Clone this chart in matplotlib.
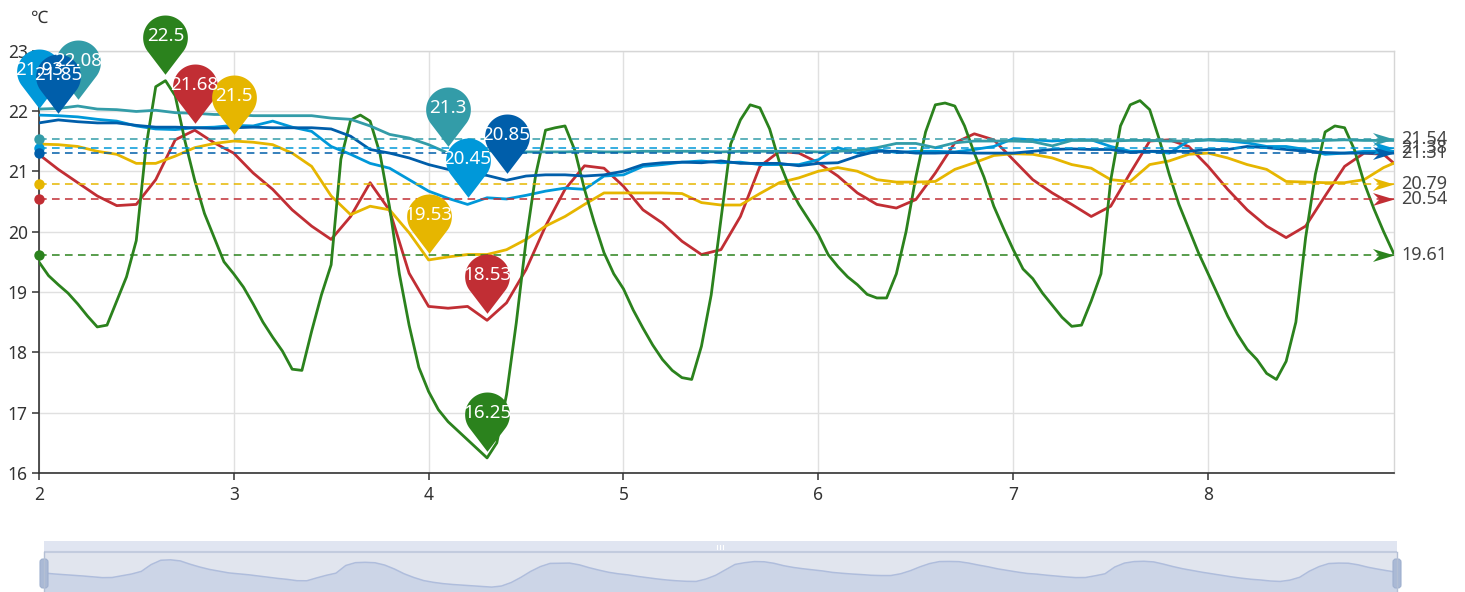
import numpy as np
import matplotlib.pyplot as plt
from matplotlib.path import Path
from matplotlib.markers import MarkerStyle
from matplotlib.patches import Rectangle, FancyBboxPatch

plt.rcParams['font.family'] = ['Noto Sans', 'DejaVu Sans']

# x grid of the sensors (step 0.1, last sample at 8.95)
x = list(np.round(np.arange(2.0, 8.91, 0.1), 2)) + [8.95]
# green sensor logged twice as often
x_green = list(np.round(np.arange(2.0, 8.96, 0.05), 2))

red = [21.28, 21.03, 20.81, 20.59, 20.43, 20.45, 20.86, 21.52, 21.68, 21.47,
       21.30, 20.97, 20.70, 20.36, 20.09, 19.87, 20.25, 20.81, 20.35, 19.31,
       18.76, 18.73, 18.76, 18.53, 18.82, 19.37, 20.09, 20.70, 21.09, 21.05,
       20.75, 20.36, 20.14, 19.84, 19.62, 19.70, 20.25, 21.08, 21.33, 21.30,
       21.14, 20.92, 20.64, 20.45, 20.39, 20.53, 20.97, 21.47, 21.62, 21.52,
       21.19, 20.86, 20.64, 20.45, 20.25, 20.42, 20.97, 21.50, 21.52, 21.41,
       21.08, 20.70, 20.36, 20.09, 19.90, 20.09, 20.59, 21.08, 21.30, 21.28,
       21.14]
yellow = [21.45, 21.44, 21.41, 21.33, 21.28, 21.13, 21.13, 21.25, 21.39, 21.46,
          21.50, 21.48, 21.44, 21.30, 21.08, 20.59, 20.28, 20.42, 20.36, 19.98,
          19.53, 19.58, 19.62, 19.62, 19.70, 19.87, 20.09, 20.25, 20.45, 20.64,
          20.64, 20.64, 20.64, 20.63, 20.48, 20.44, 20.44, 20.63, 20.81, 20.89,
          21.00, 21.06, 21.00, 20.86, 20.82, 20.82, 20.83, 21.03, 21.14, 21.26,
          21.29, 21.28, 21.22, 21.11, 21.05, 20.86, 20.83, 21.11, 21.17, 21.28,
          21.30, 21.22, 21.11, 21.03, 20.83, 20.82, 20.81, 20.81, 20.86, 21.06,
          21.13]
light_blue = [21.93, 21.92, 21.90, 21.86, 21.83, 21.75, 21.70, 21.69, 21.72, 21.73,
              21.76, 21.75, 21.83, 21.73, 21.66, 21.41, 21.28, 21.13, 21.05, 20.86,
              20.67, 20.55, 20.45, 20.56, 20.54, 20.60, 20.67, 20.72, 20.70, 20.92,
              20.94, 21.08, 21.11, 21.15, 21.17, 21.14, 21.15, 21.11, 21.11, 21.11,
              21.19, 21.39, 21.30, 21.36, 21.31, 21.33, 21.33, 21.32, 21.36, 21.41,
              21.54, 21.52, 21.50, 21.52, 21.52, 21.41, 21.33, 21.33, 21.30, 21.50,
              21.52, 21.50, 21.47, 21.41, 21.41, 21.36, 21.28, 21.30, 21.33, 21.33,
              21.33]
green = [19.50, 19.27, 19.12, 18.98, 18.80, 18.60, 18.42, 18.45, 18.85, 19.25,
         19.85, 21.40, 22.40, 22.50, 22.25, 21.50, 20.85, 20.30, 19.90, 19.50,
         19.30, 19.08, 18.80, 18.50, 18.25, 18.02, 17.72, 17.70, 18.35, 18.95,
         19.45, 21.20, 21.85, 21.93, 21.83, 21.30, 20.40, 19.30, 18.45, 17.75,
         17.35, 17.05, 16.85, 16.70, 16.55, 16.40, 16.25, 16.50, 17.30, 18.49,
         19.85, 20.95, 21.68, 21.72, 21.75, 21.35, 20.70, 20.15, 19.65, 19.30,
         19.05, 18.70, 18.40, 18.12, 17.88, 17.70, 17.58, 17.55, 18.10, 18.95,
         20.20, 21.45, 21.85, 22.10, 22.05, 21.70, 21.15, 20.75, 20.45, 20.20,
         19.95, 19.62, 19.42, 19.25, 19.12, 18.96, 18.90, 18.90, 19.30, 20.00,
         20.90, 21.65, 22.10, 22.13, 22.08, 21.75, 21.30, 20.90, 20.42, 20.05,
         19.70, 19.38, 19.22, 18.98, 18.78, 18.58, 18.43, 18.45, 18.85, 19.30,
         20.85, 21.75, 22.10, 22.17, 22.02, 21.52, 20.95, 20.45, 20.05, 19.65,
         19.30, 18.95, 18.60, 18.30, 18.05, 17.88, 17.65, 17.55, 17.85, 18.50,
         19.90, 20.95, 21.65, 21.75, 21.72, 21.36, 20.81, 20.38, 20.00, 19.65]
dark_blue = [21.80, 21.85, 21.82, 21.80, 21.80, 21.76, 21.73, 21.73, 21.72, 21.71,
             21.72, 21.73, 21.72, 21.72, 21.72, 21.70, 21.58, 21.36, 21.30, 21.22,
             21.11, 21.03, 20.97, 20.93, 20.85, 20.92, 20.94, 20.94, 20.92, 20.94,
             21.00, 21.11, 21.14, 21.15, 21.14, 21.17, 21.13, 21.13, 21.13, 21.09,
             21.13, 21.14, 21.25, 21.33, 21.33, 21.30, 21.30, 21.31, 21.30, 21.30,
             21.30, 21.33, 21.36, 21.37, 21.36, 21.36, 21.31, 21.33, 21.33, 21.33,
             21.36, 21.36, 21.41, 21.39, 21.36, 21.33, 21.31, 21.30, 21.30, 21.30,
             21.30]
teal = [22.03, 22.04, 22.08, 22.03, 22.02, 21.99, 22.01, 21.97, 21.96, 21.94,
        21.94, 21.92, 21.92, 21.92, 21.92, 21.88, 21.86, 21.75, 21.61, 21.55,
        21.44, 21.30, 21.39, 21.34, 21.33, 21.32, 21.32, 21.32, 21.33, 21.32,
        21.32, 21.33, 21.33, 21.33, 21.33, 21.32, 21.33, 21.33, 21.33, 21.33,
        21.32, 21.33, 21.35, 21.39, 21.46, 21.46, 21.39, 21.47, 21.50, 21.50,
        21.50, 21.49, 21.42, 21.51, 21.51, 21.50, 21.51, 21.51, 21.50, 21.50,
        21.52, 21.52, 21.50, 21.50, 21.51, 21.50, 21.51, 21.52, 21.51, 21.51,
        21.51]

# average values shown by the dashed mark lines
avg = {'red': 20.54, 'yellow': 20.79, 'light_blue': 21.38, 'green': 19.61,
       'dark_blue': 21.31, 'teal': 21.54}

colors = {'red': '#c12e34', 'yellow': '#e6b600', 'light_blue': '#0098d9',
          'green': '#2b821d', 'dark_blue': '#005eaa', 'teal': '#339ca8'}
series = [('red', x, red), ('yellow', x, yellow), ('light_blue', x, light_blue),
          ('green', x_green, green), ('dark_blue', x, dark_blue), ('teal', x, teal)]

W, H = 1465, 592
fig = plt.figure(figsize=(W / 100, H / 100), dpi=100)
left_px, right_px, top_px, bot_px = 38.8, 1394.3, 50.5, 473
ax = fig.add_axes([left_px / W, 1 - bot_px / H, (right_px - left_px) / W, (bot_px - top_px) / H])
x_max = 8.955
ax.set_xlim(2, x_max)
ax.set_ylim(16, 23)
ax.set_xticks(range(2, 9))
ax.set_yticks(range(16, 24))
ax.grid(color='#e0e0e0', lw=1)
ax.set_axisbelow(True)
for s in ['left', 'bottom']:
    ax.spines[s].set_color('#333333')
    ax.spines[s].set_linewidth(1.2)
for s in ['top', 'right']:
    ax.spines[s].set_color('#d6d6d6')
    ax.spines[s].set_linewidth(1)
ax.tick_params(axis='both', direction='out', length=5, width=1.1, color='#333333',
               labelsize=12.5, labelcolor='#333333')
ax.tick_params(axis='x', pad=4)
ax.tick_params(axis='y', pad=3)

fig.text(40 / W, 1 - 18 / H, '℃', ha='center', va='center', fontsize=12.5, color='#333333')

# data lines
for name, xs, ys in series:
    ax.plot(xs, ys, color=colors[name], lw=2.0, zorder=3, solid_joinstyle='round')

# average mark lines with start dot and end arrow
arrow = Path([(0, 0), (-1, 0.3), (-0.7, 0), (-1, -0.3), (0, 0)],
             [Path.MOVETO, Path.LINETO, Path.LINETO, Path.LINETO, Path.CLOSEPOLY])
for name, xs, ys in series:
    a = avg[name]
    c = colors[name]
    ax.plot([2, x_max], [a, a], color=c, lw=1.1, ls=(0, (5, 3.5)), zorder=4)
    ax.plot([2], [a], 'o', ms=7.5, color=c, mew=0, zorder=5, clip_on=False)
    ax.plot([x_max], [a], marker=MarkerStyle(arrow), ms=31, color=c, mew=0,
            ls='none', zorder=5, clip_on=False)
    ax.annotate(f'{a:.2f}', (x_max, a), xytext=(5, 0), textcoords='offset points',
                ha='left', va='center', fontsize=13, color='#444444',
                annotation_clip=False)

# pin shaped mark points for max / min
tip, cy = 0.3, 1.95
ang = np.radians(np.linspace(-37.3, 217.3, 80))
pin_verts = np.column_stack([np.cos(ang), cy + np.sin(ang)])
pin_verts = np.vstack([pin_verts, [0, tip], pin_verts[0]])
pin_codes = [Path.MOVETO] + [Path.LINETO] * (len(pin_verts) - 2) + [Path.CLOSEPOLY]
pin = MarkerStyle(Path(pin_verts, pin_codes))
pin_ms = 95
head_off = pin_ms * 0.5 / (cy + 1) * cy

pin_order = ['teal', 'red', 'yellow', 'light_blue', 'green', 'dark_blue']
lookup = {name: (xs, ys) for name, xs, ys in series}
for k, name in enumerate(pin_order):
    xs, ys = lookup[name]
    for idx in [int(np.argmax(ys)), int(np.argmin(ys))]:
        ax.plot([xs[idx]], [ys[idx]], marker=pin, ms=pin_ms, color=colors[name],
                mew=0, ls='none', zorder=6 + k * 0.01, clip_on=False)
for name in pin_order:
    xs, ys = lookup[name]
    for idx in [int(np.argmax(ys)), int(np.argmin(ys))]:
        ax.annotate(f'{ys[idx]:g}', (xs[idx], ys[idx]), xytext=(0, head_off + 1),
                    textcoords='offset points', ha='center', va='center',
                    fontsize=13.5, color='white', zorder=7, annotation_clip=False)

# data zoom slider at the bottom
sl, sr, st = 44, 1397, 541
axs = fig.add_axes([sl / W, 0, (sr - sl) / W, (H - st) / H])
axs.set_xlim(sl, sr)
axs.set_ylim(H, st)
axs.axis('off')
axs.add_patch(Rectangle((sl, st), sr - sl, 11, color='#e0e5f1', lw=0))
axs.add_patch(Rectangle((sl, st + 11), sr - sl, H - st - 11, color='#e1e5ee', lw=0))
axs.plot([sl, sr], [st + 11, st + 11], color='#c2cbde', lw=1.5)
for gx in [717, 720, 723]:
    axs.plot([gx, gx], [st + 3.5, st + 7.5], color='white', lw=0.8)

axp = fig.add_axes([sl / W, 0, (sr - sl) / W, (H - st - 12) / H])
gmin, gmax = min(green), max(green)
rng = gmax - gmin
lo, hi = gmin - rng * 5 / 28, gmax + rng * 7 / 28
axp.set_xlim(min(x_green), max(x_green))
axp.set_ylim(lo, hi)
axp.axis('off')
axp.fill_between(x_green, green, lo, color='#ccd5e7', lw=0)
axp.plot(x_green, green, color='#afbddc', lw=1.1)

axh = fig.add_axes([0, 0, 1, (H - st) / H])
axh.set_xlim(0, W)
axh.set_ylim(H, st)
axh.axis('off')
for hx in [sl, sr]:
    axh.plot([hx, hx], [st + 11, H], color='#b4bfd4', lw=1)
    axh.add_patch(FancyBboxPatch((hx - 4, 559), 8, 29, boxstyle='round,pad=0,rounding_size=3',
                                 fc='#aab9d5', ec='#9fb0cf', lw=0.8))

fig.savefig('out.png', dpi=100)
